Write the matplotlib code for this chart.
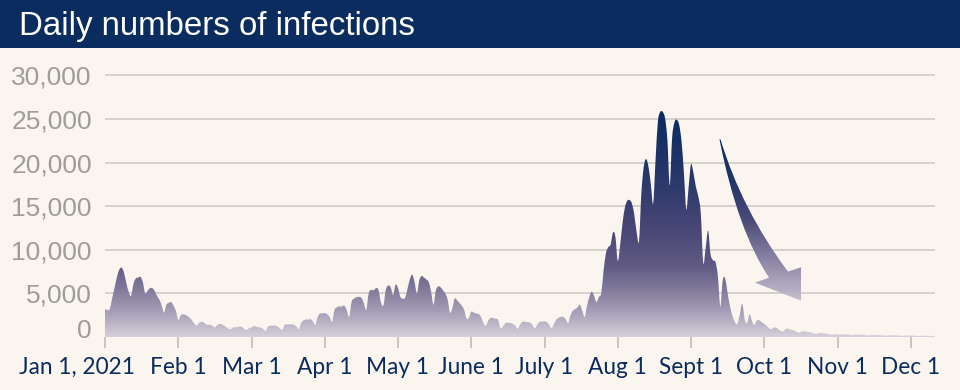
import numpy as np
import pandas as pd
import matplotlib
matplotlib.use("Agg")
import matplotlib.pyplot as plt
from matplotlib.colors import LinearSegmentedColormap
from matplotlib.patches import Rectangle, PathPatch
from matplotlib.path import Path
import matplotlib.transforms as mtransforms

# daily new infections (Jan 1 - Dec 11, 2021)
jan = [3200, 3100, 3200, 4400, 5600, 6800, 7700, 7950, 7400, 6200, 5200, 4700, 6000, 6700, 6800, 6900,
       6300, 5000, 5300, 5600, 5600, 5300, 4700, 4300, 3600, 2800, 3700, 3900, 4000, 3600, 3000]
feb = [1950, 2500, 2600, 2500, 2300, 2000, 1600, 1300, 1600, 1750, 1600, 1400, 1400, 1300, 1100, 1400,
       1500, 1400, 1200, 1000, 900, 1100, 1100, 1150, 1200, 1000, 800, 1000]
mar = [1100, 1250, 1200, 1100, 1100, 900, 700, 1200, 1300, 1300, 1300, 1200, 1000, 800, 1400, 1450,
       1450, 1450, 1400, 1200, 900, 1600, 1900, 2000, 2000, 2050, 1800, 1400, 2300, 2700, 2700]
apr = [2750, 2600, 2300, 1750, 3100, 3400, 3500, 3500, 3600, 3100, 2300, 4050, 4400, 4550, 4600,
       4500, 3900, 3100, 5000, 5400, 5350, 5600, 5400, 4000, 3600, 5400, 5900, 5700, 4800, 6000]
may = [5600, 4600, 4400, 4500, 5500, 6600, 7150, 6300, 5000, 6500, 7000, 6800, 6600, 6300, 5200, 3700,
       5300, 5800, 5700, 5350, 5000, 4300, 2800, 3300, 4400, 4200, 3900, 3600, 3100, 2100, 2200]
jun = [2900, 2800, 2700, 2650, 2300, 1600, 1300, 1900, 2200, 2150, 2100, 1950, 1000, 1200, 1600,
       1650, 1600, 1500, 1300, 950, 1400, 1750, 1750, 1700, 1650, 1400, 1000, 1400, 1750, 1750]
jul = [1800, 1700, 1400, 1000, 1500, 2000, 2200, 2300, 2300, 2000, 1600, 2500, 3000, 3200, 3400, 3700,
       3000, 2300, 3600, 4600, 5200, 4700, 4000, 4600, 5000, 7600, 9600, 10300, 10600, 12000, 11500]
aug = [8700, 10500, 13000, 14800, 15600, 15700, 15300, 14000, 12000, 11000, 16500, 19500, 20400, 19500,
       17500, 15300, 20300, 24700, 25800, 25800, 25100, 22600, 17400, 22800, 24600, 24900, 24300,
       22400, 18800, 14600, 17200]
sep = [19800, 18800, 17200, 16100, 14200, 8500, 10200, 12200, 9500, 8800, 8600, 7000, 3500, 6500,
       6700, 5000, 3500, 2400, 1700, 1500, 2600, 3800, 2000, 1600, 2600, 1800, 1400, 1900, 1900, 1700]
oct_ = [1500, 1300, 1000, 900, 1100, 1050, 900, 700, 650, 900, 950, 850, 800, 700, 550, 500, 650,
        650, 600, 550, 500, 400, 350, 450, 450, 420, 400, 350, 300, 250, 300]
nov = [300, 280, 300, 290, 270, 230, 200, 260, 270, 260, 250, 230, 200, 180, 220, 230, 220, 210,
       190, 160, 150, 190, 200, 190, 180, 160, 140, 130, 160, 170]
dec = [160, 150, 140, 120, 110, 140, 150, 140, 130, 120, 110]

month_labels = ["Jan 1, 2021", "Feb 1", "Mar 1", "Apr 1", "May 1", "June 1", "July 1",
                "Aug 1", "Sept 1", "Oct 1", "Nov 1", "Dec 1"]
y_ticks = [0, 5000, 10000, 15000, 20000, 25000, 30000]
y_labels = ["0", "5,000", "10,000", "15,000", "20,000", "25,000", "30,000"]

BG = "#faf5ef"
NAVY = "#0a2c5f"
GRID = "#d2cfcb"
GRAY_TXT = "#a09d99"

values = np.array(jan + feb + mar + apr + may + jun + jul + aug + sep + oct_ + nov + dec, dtype=float)
dates = pd.date_range("2021-01-01", periods=len(values), freq="D")
# months are drawn evenly spaced on the axis
xpos = np.asarray((dates.month - 1) + (dates.day - 1) / dates.days_in_month, dtype=float)

fig = plt.figure(figsize=(9.6, 3.9), dpi=100)
fig.patch.set_facecolor(BG)

# title bar
fig.patches.append(Rectangle((0, 1 - 48 / 390), 1, 48 / 390, transform=fig.transFigure,
                             facecolor=NAVY, edgecolor="none", zorder=0))
fig.text(19 / 960, 1 - 34.5 / 390, "Daily numbers of infections", color="white",
         fontsize=23.8, family="Liberation Sans", va="baseline", ha="left")

ax = fig.add_axes([105 / 960, 53 / 390, 830 / 960, (337 - 70.9) / 390])
ax.set_facecolor(BG)
for s in ax.spines.values():
    s.set_visible(False)

xmax = 830 / 73.25
ax.set_xlim(0, xmax)
ax.set_ylim(0, 30500)

ax.set_yticks(y_ticks)
ax.set_yticklabels(y_labels)
ax.grid(axis="y", color=GRID, lw=1.3)
ax.set_axisbelow(True)
ax.tick_params(axis="y", length=0, pad=9.4, labelsize=19, labelcolor=GRAY_TXT)
for lab in ax.get_yticklabels():
    lab.set_family("Liberation Sans")

ax.set_xticks(range(12))
ax.set_xticklabels(month_labels)
ax.tick_params(axis="x", length=8, width=1.4, color="#c8c5c1", pad=6.5,
               labelsize=16.3, labelcolor=NAVY)
for lab in ax.get_xticklabels():
    lab.set_family("Lato")

# nudge first x label left and the zero label up
xl = ax.get_xticklabels()[0]
xl.set_transform(xl.get_transform() + mtransforms.ScaledTranslation(-0.28, 0, fig.dpi_scale_trans))
yl = ax.get_yticklabels()[0]
yl.set_transform(yl.get_transform() + mtransforms.ScaledTranslation(0, 0.08, fig.dpi_scale_trans))

# area outline drawn as a smooth curve through the daily values
pts = np.column_stack([xpos, values])
pad = np.vstack([pts[0], pts, pts[-1]])
verts = [(xpos[0], 0.0), tuple(pts[0])]
codes = [Path.MOVETO, Path.LINETO]
for i in range(len(pts) - 1):
    p0, p1, p2, p3 = pad[i], pad[i + 1], pad[i + 2], pad[i + 3]
    c1 = p1 + (p2 - p0) / 6
    c2 = p2 - (p3 - p1) / 6
    verts += [tuple(c1), tuple(c2), tuple(p2)]
    codes += [Path.CURVE4] * 3
verts += [(xpos[-1], 0.0), (xpos[0], 0.0)]
codes += [Path.LINETO, Path.CLOSEPOLY]
area = PathPatch(Path(verts, codes), facecolor="none", edgecolor="none")
ax.add_patch(area)

area_cmap = LinearSegmentedColormap.from_list("area", [
    (0.0, "#d5cfda"), (0.1, "#aaa3ba"), (0.2, "#847d9d"), (0.31, "#615b84"),
    (0.46, "#4b4877"), (0.62, "#343d6e"), (0.77, "#203468"), (1.0, "#092c60")])
grad = np.linspace(0, 1, 256).reshape(-1, 1)
im = ax.imshow(grad, extent=[0, xmax, 0, 26000], origin="lower", aspect="auto",
               cmap=area_cmap, zorder=1, interpolation="bilinear")
im.set_clip_path(area)

# curved arrow
arrow_cmap = LinearSegmentedColormap.from_list("arrow", [
    (0.0, "#c6bfd0"), (0.25, "#8c85a4"), (0.5, "#4a4a78"), (0.75, "#1f3468"), (1.0, "#0a2d62")])
P = Path([(8.389, 22640), (8.635, 12232), (9.065, 6798), (8.874, 6225), (9.502, 4161),
          (9.502, 7990), (9.324, 7497), (8.694, 14559), (8.403, 22640), (8.389, 22640)],
         [Path.MOVETO, Path.CURVE3, Path.CURVE3, Path.LINETO, Path.LINETO,
          Path.LINETO, Path.LINETO, Path.CURVE3, Path.CURVE3, Path.CLOSEPOLY])
arrow = PathPatch(P, facecolor="none", edgecolor="none")
ax.add_patch(arrow)
im2 = ax.imshow(grad, extent=[8.3, 9.6, 4100, 22700], origin="lower", aspect="auto",
                cmap=arrow_cmap, zorder=2, interpolation="bilinear")
im2.set_clip_path(arrow)

ax.set_xlim(0, xmax)
ax.set_ylim(0, 30500)

fig.savefig("out.png", dpi=100, facecolor=BG)
